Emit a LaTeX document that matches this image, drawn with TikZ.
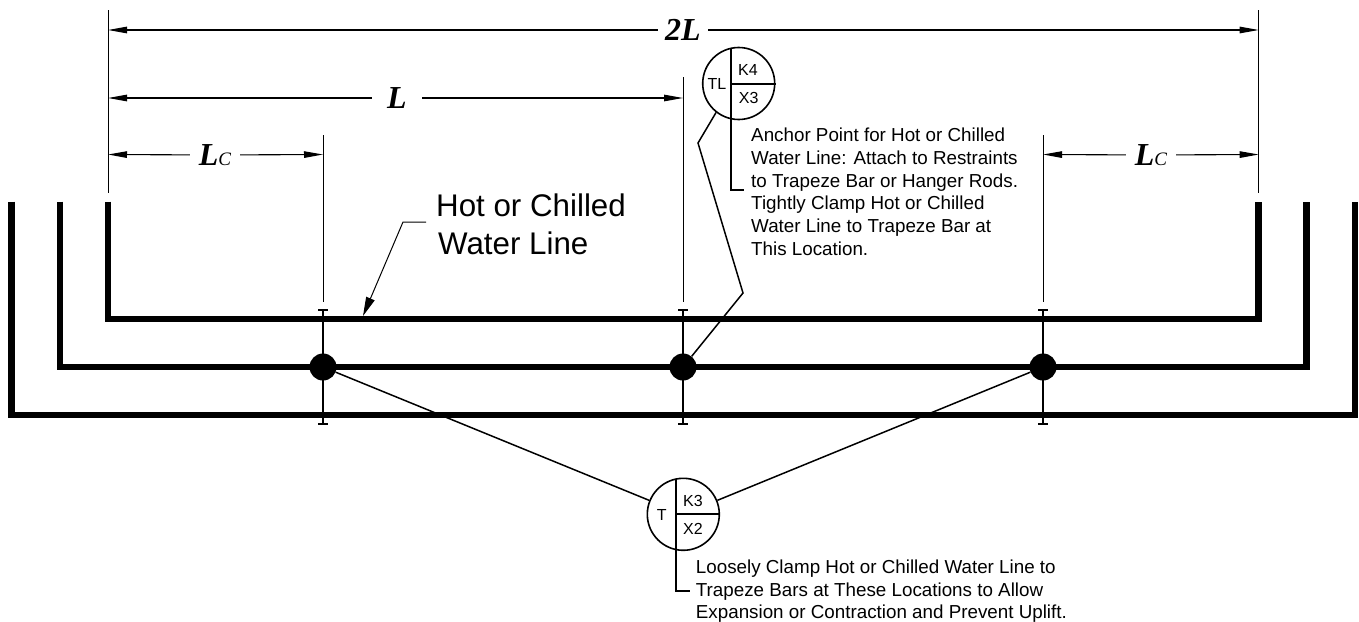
\documentclass[tikz,border=0pt]{standalone}
\usepackage{fontspec}
\setmainfont{Liberation Sans}
\newfontfamily\dimfont{Liberation Serif}
\usepackage{tikz}
\usetikzlibrary{arrows.meta}
\tikzset{
  pipe/.style={line width=6.7pt,line join=miter},
  thin line/.style={line width=1pt},
  dim line/.style={line width=1.1pt,-{Triangle[length=19pt,width=6.5pt]}},
  leader/.style={line width=1.5pt},
  divider/.style={line width=2pt},
  bubble/.style={draw,circle,line width=1.6pt,minimum size=72pt,inner sep=0pt},
  tag/.style={font=\fontsize{16}{16}\selectfont,inner sep=0pt},
  note/.style={font=\fontsize{18.8}{22.7}\selectfont,align=left,anchor=north west,inner sep=0pt},
  dim/.style={font=\fontsize{32}{32}\selectfont\dimfont\bfseries\itshape,inner sep=0pt,minimum width=50pt,minimum height=20pt},
  big/.style={anchor=west,inner sep=0pt,font=\fontsize{31.3}{31.3}\selectfont},
  joint/.style={draw=none,fill=black,circle,minimum size=27pt,inner sep=0pt}
}
\begin{document}
\begin{tikzpicture}[x=1pt,y=-1pt]
  \useasboundingbox (0,0) rectangle (1359,621);
  % pipes
  \draw[pipe] (11.7,201.7) -- (11.7,415) -- (1355,415) -- (1355,201.7);
  \draw[pipe] (60,201.7) -- (60,367) -- (1306.7,367) -- (1306.7,201.7);
  \draw[pipe] (108,201.7) -- (108,319) -- (1258.7,319) -- (1258.7,201.7);
  % extension lines
  \coordinate (P) at (108,10);
  \coordinate (Q) at (108,193);
  \coordinate (R) at (1258.7,10);
  \coordinate (S) at (1258.7,193);
  \coordinate (U) at (323,135);
  \coordinate (V) at (323,302);
  \coordinate (W) at (683,77);
  \coordinate (Y) at (683,302);
  \coordinate (Z) at (1043,135);
  \coordinate (AA) at (1043,302);
  \draw[thin line] (P) -- (Q);
  \draw[thin line] (R) -- (S);
  \draw[thin line] (U) -- (V);
  \draw[thin line] (W) -- (Y);
  \draw[thin line] (Z) -- (AA);
  % dimensions
  \node[dim] (TWOL) at (683,30) {2L};
  \node[dim] (ONEL) at (397,98) {L};
  \node[dim] (LCA) at (215,155) {L\fontsize{19}{19}\selectfont\mdseries C};
  \node[dim] (LCB) at (1151,155) {L\fontsize{19}{19}\selectfont\mdseries C};
  \draw[dim line] (TWOL) -- (108,30);
  \draw[dim line] (TWOL) -- (1258.7,30);
  \draw[dim line] (ONEL) -- (108,98);
  \draw[dim line] (ONEL) -- (683,98);
  \draw[dim line] (LCA) -- (108,154.5);
  \draw[dim line] (LCA) -- (323,154.5);
  \draw[dim line] (LCB) -- (1043,154.5);
  \draw[dim line] (LCB) -- (1258.7,154.5);
  % trapeze bars
  \foreach \x/\w in {323/1.8,683/2.2,1043/1.3} {
    \draw[line width=\w pt] (\x,310) -- (\x,424);
    \draw[line width=2pt] (\x-5,310) -- (\x+5,310);
    \draw[line width=2pt] (\x-5,424) -- (\x+5,424);
  }
  \node[joint] (J1) at (323,367) {};
  \node[joint] (J2) at (683,367) {};
  \node[joint] (J3) at (1043,367) {};
  % pipe label
  \node[big] (H) at (436,205) {Hot or Chilled};
  \node[big] (I) at (438,243.5) {Water Line};
  \coordinate (K) at (426,222);
  \coordinate (M) at (403,222);
  \coordinate (N) at (363,316);
  \draw[thin line,-{Triangle[length=19pt,width=9pt]}] (K) -- (M) -- (N);
  % anchor bubble
  \node[bubble] (TL) at (738.7,83.5) {};
  \node[tag] (TLA) at (717,84) {TL};
  \node[tag] (K4) at (748,70) {K4};
  \node[tag] (X3) at (748.7,98) {X3};
  \coordinate (A1) at (730.7,47.5);
  \coordinate (A2) at (730.7,190);
  \coordinate (A3) at (744,190);
  \draw[divider] (A1) -- (A2) -- (A3);
  \draw[divider] (A1 |- TL) -- (TL.east);
  \node[note] (NA) at (751,128) {Anchor Point for Hot or Chilled\\Water Line: Attach to Restraints\\to Trapeze Bar or Hanger Rods.\\Tightly Clamp Hot or Chilled\\Water Line to Trapeze Bar at\\This Location.};
  \coordinate (B1) at (698,143);
  \coordinate (B2) at (743,293);
  \draw[leader] (TL.232) -- (B1) -- (B2) -- (J2);
  % loose bubble
  \node[bubble] (T) at (683.3,514.3) {};
  \node[tag] (TA) at (661.7,515) {T};
  \node[tag] (K3) at (693,501) {K3};
  \node[tag] (X2) at (693,528.5) {X2};
  \coordinate (C1) at (676,478.5);
  \coordinate (C2) at (676,591);
  \coordinate (C3) at (690,591);
  \draw[divider] (C1) -- (C2) -- (C3);
  \draw[divider] (C1 |- T) -- (T.east);
  \node[note] (NB) at (695.7,559.5) {Loosely Clamp Hot or Chilled Water Line to\\Trapeze Bars at These Locations to Allow\\Expansion or Contraction and Prevent Uplift.};
  \draw[leader] (T) -- (J1);
  \draw[leader] (T) -- (J3);
\end{tikzpicture}
\end{document}
